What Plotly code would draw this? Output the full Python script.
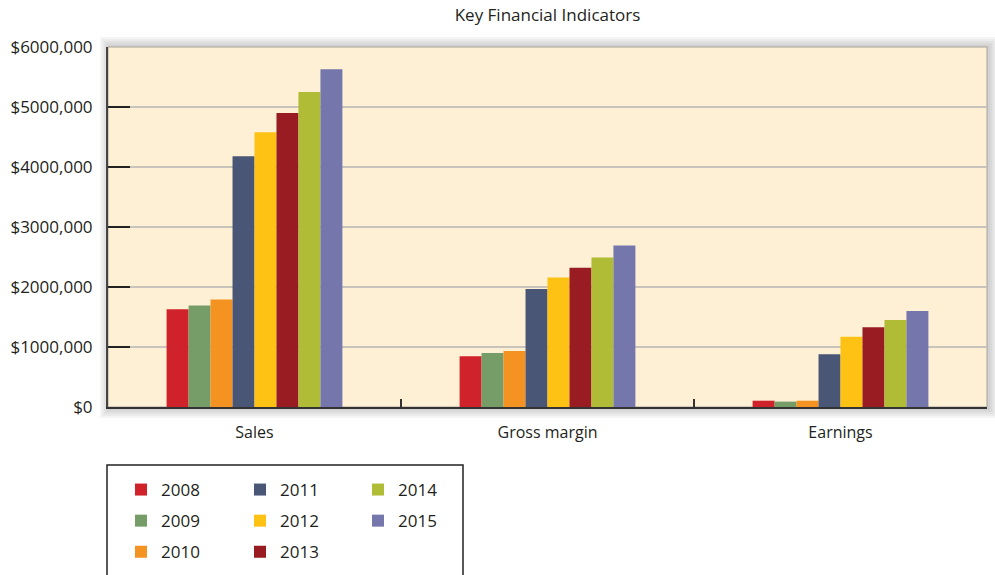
import plotly.graph_objects as go

categories = ["Sales", "Gross margin", "Earnings"]
years = ["2008", "2009", "2010", "2011", "2012", "2013", "2014", "2015"]
values = {
    "2008": [1630000, 845000, 105000],
    "2009": [1690000, 900000, 90000],
    "2010": [1790000, 935000, 105000],
    "2011": [4180000, 1965000, 880000],
    "2012": [4580000, 2160000, 1170000],
    "2013": [4900000, 2320000, 1330000],
    "2014": [5250000, 2490000, 1450000],
    "2015": [5630000, 2690000, 1600000],
}
colors = ["#D0222B", "#769D67", "#F59322", "#4A5676", "#FEC214",
          "#981C21", "#B1BC36", "#7476AC"]
tick_vals = [0, 1000000, 2000000, 3000000, 4000000, 5000000, 6000000]
tick_text = ["$0", "$1000,000", "$2000,000", "$3000,000", "$4000,000",
             "$5000,000", "$6000,000"]
legend_cols = {"legend": ["2008", "2009", "2010"],
               "legend2": ["2011", "2012", "2013"],
               "legend3": ["2014", "2015"]}

FONT = "Open Sans"
W, H = 995, 575
# plot area in page pixels: x 108..987, y 47..407
L, T = 108, 47
R = W - 987
B = H - 407
PW = W - L - R
PH = H - T - B

def px_x(p):
    return (p - L) / PW

def px_y(p):
    return (H - B - p) / PH

fig = go.Figure()
for i, y in enumerate(years):
    leg = [k for k, v in legend_cols.items() if y in v][0]
    fig.add_trace(go.Bar(
        x=categories, y=values[y], name=y,
        marker=dict(color=colors[i], line=dict(width=0)),
        legend=leg, legendgroup=y,
    ))

shapes = []
# soft blurred shadow around the plot area
for grow in [10, 8, 6, 4, 2]:
    shapes.append(dict(type="rect", xref="paper", yref="paper", layer="below",
                       x0=px_x(108 - grow + 2), x1=px_x(987 + grow + 1),
                       y0=px_y(407 + grow + 1), y1=px_y(47 - grow),
                       fillcolor="rgba(80,80,80,0.055)", line=dict(width=0)))
shapes.append(dict(type="rect", xref="paper", yref="paper", layer="below",
                   x0=0, x1=1, y0=0, y1=1,
                   fillcolor="#FDF0D4", line=dict(color="#A8A29C", width=1)))
# legend box
shapes.append(dict(type="rect", xref="paper", yref="paper",
                   x0=px_x(107), x1=px_x(463), y0=px_y(590), y1=px_y(465),
                   line=dict(color="#222222", width=1.5), fillcolor="rgba(0,0,0,0)"))

legend_common = dict(
    orientation="v", xanchor="left", yanchor="top",
    font=dict(family=FONT, size=17, color="#231F20"),
    bgcolor="rgba(0,0,0,0)", traceorder="grouped", tracegroupgap=6,
)

fig.update_layout(
    width=W, height=H,
    margin=dict(l=L, r=R, t=T, b=B, autoexpand=False),
    paper_bgcolor="white",
    plot_bgcolor="rgba(0,0,0,0)",
    barmode="group", bargap=0.4, bargroupgap=0,
    title=dict(text="Key Financial Indicators", x=0.5, xref="paper",
               y=1 - 15 / H, yref="container", xanchor="center",
               yanchor="middle",
               font=dict(family=FONT, size=17, color="#231F20")),
    font=dict(family=FONT, color="#231F20"),
    shapes=shapes,
    legend=dict(x=px_x(121), y=px_y(472), **legend_common),
    legend2=dict(x=px_x(240), y=px_y(472), **legend_common),
    legend3=dict(x=px_x(358), y=px_y(472), **legend_common),
    xaxis=dict(
        automargin=False,
        showline=True, linecolor="#333333", linewidth=2,
        ticks="inside", tickson="boundaries", ticklen=8, tickcolor="#333333",
        tickwidth=1.5, showgrid=False,
        tickfont=dict(family=FONT, size=16, color="#231F20"),
        ticklabelstandoff=10,
    ),
    yaxis=dict(
        automargin=False,
        range=[0, 6000000], tickvals=tick_vals, ticktext=tick_text,
        showline=True, linecolor="#444444", linewidth=2,
        ticks="inside", ticklen=22, tickcolor="#222222", tickwidth=1.5,
        showgrid=True, gridcolor="#C9C3BC", gridwidth=1.5,
        zeroline=False,
        tickfont=dict(family=FONT, size=17, color="#231F20"),
        ticklabelstandoff=10,
    ),
)

fig.write_html("out.html",
               config={"displayModeBar": False},
               post_script="document.body.style.margin='0';"
                           "document.body.style.overflow='hidden';")
